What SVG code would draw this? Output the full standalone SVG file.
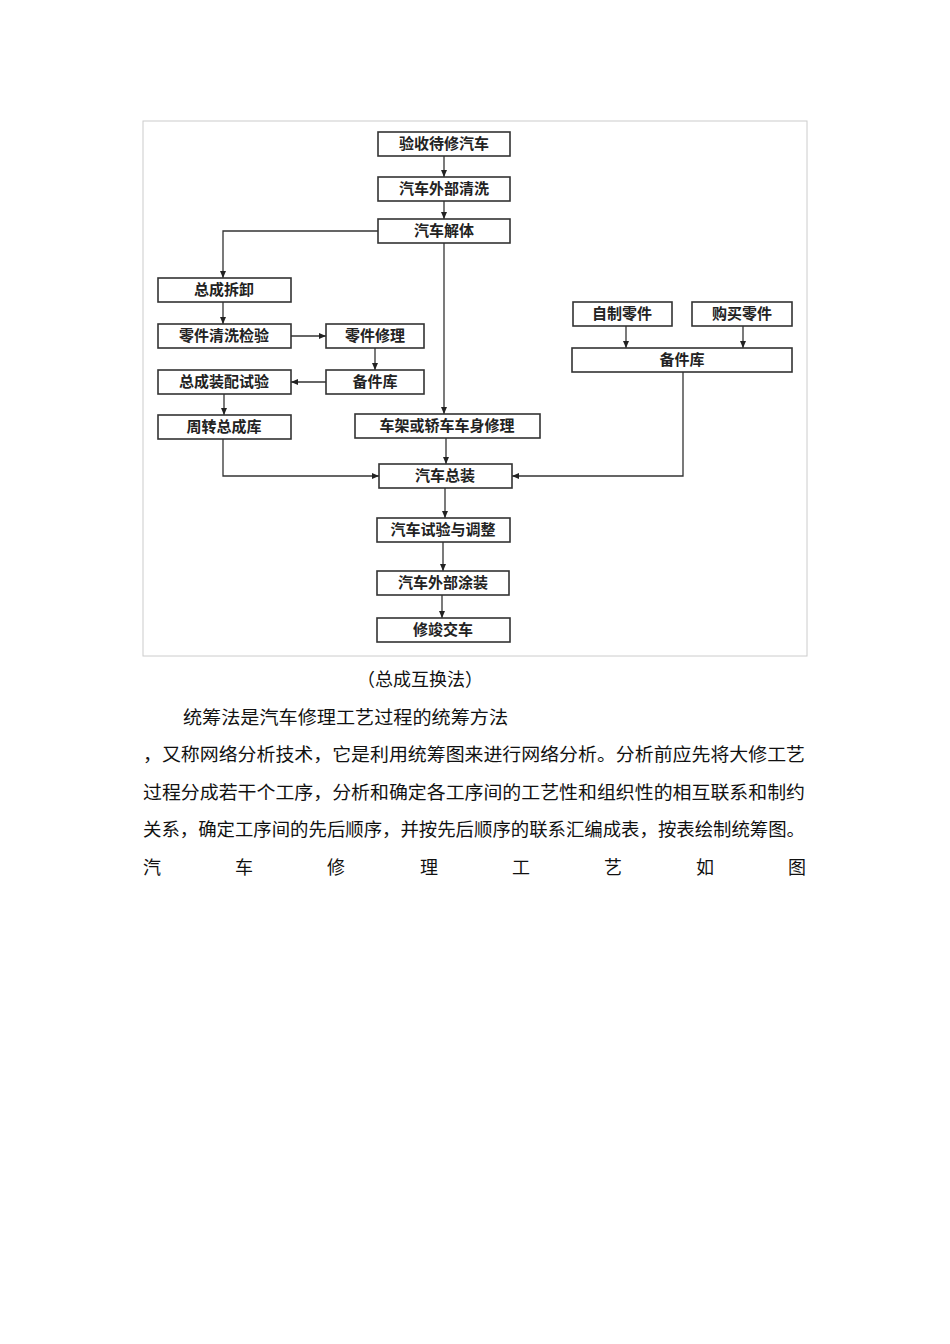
<svg xmlns="http://www.w3.org/2000/svg" width="950" height="1344" viewBox="0 0 950 1344">
<defs>
<marker id="ah" markerWidth="8" markerHeight="8" refX="7" refY="4" orient="auto" markerUnits="userSpaceOnUse"><path d="M0,1 L7,4 L0,7 Z" fill="#222"/></marker>
<style>
.b{fill:#fff;stroke:#333;stroke-width:1.6}
.t{font-family:"Noto Sans CJK SC",sans-serif;font-size:15px;font-weight:bold;fill:#222;text-anchor:middle}
.c{fill:none;stroke:#333;stroke-width:1.3;marker-end:url(#ah)}
.p{font-family:"Noto Sans CJK SC",serif;font-size:18px;fill:#111}
</style>
</defs>
<rect width="950" height="1344" fill="#fff"/>
<rect x="143" y="121" width="664" height="535" fill="none" stroke="#ccc" stroke-width="1"/>
<g id="connectors">
<path class="c" d="M444,156 V177"/>
<path class="c" d="M444,201 V219"/>
<path class="c" d="M378,231 H223 V278"/>
<path class="c" d="M444,243 V414"/>
<path class="c" d="M223,302 V324"/>
<path class="c" d="M291,336 H326"/>
<path class="c" d="M375,348 V370"/>
<path class="c" d="M326,382 H291"/>
<path class="c" d="M224,394 V415"/>
<path class="c" d="M223,439 V476 H379"/>
<path class="c" d="M446,438 V464"/>
<path class="c" d="M626,326 V348"/>
<path class="c" d="M743,326 V348"/>
<path class="c" d="M683,372 V476 H512"/>
<path class="c" d="M445,488 V518"/>
<path class="c" d="M443,542 V571"/>
<path class="c" d="M442,595 V618"/>
</g>
<g id="n1"><rect class="b" x="378" y="132" width="132" height="24"/><text class="t" x="444" y="149">验收待修汽车</text></g>
<g id="n2"><rect class="b" x="378" y="177" width="132" height="24"/><text class="t" x="444" y="194">汽车外部清洗</text></g>
<g id="n3"><rect class="b" x="378" y="219" width="132" height="24"/><text class="t" x="444" y="236">汽车解体</text></g>
<g id="n4"><rect class="b" x="158" y="278" width="133" height="24"/><text class="t" x="224" y="295">总成拆卸</text></g>
<g id="n5"><rect class="b" x="158" y="324" width="133" height="24"/><text class="t" x="224" y="341">零件清洗检验</text></g>
<g id="n6"><rect class="b" x="326" y="324" width="98" height="24"/><text class="t" x="375" y="341">零件修理</text></g>
<g id="n7"><rect class="b" x="158" y="370" width="133" height="24"/><text class="t" x="224" y="387">总成装配试验</text></g>
<g id="n8"><rect class="b" x="326" y="370" width="98" height="24"/><text class="t" x="375" y="387">备件库</text></g>
<g id="n9"><rect class="b" x="158" y="415" width="133" height="24"/><text class="t" x="224" y="432">周转总成库</text></g>
<g id="n10"><rect class="b" x="355" y="414" width="185" height="24"/><text class="t" x="447" y="431">车架或轿车车身修理</text></g>
<g id="n11"><rect class="b" x="573" y="302" width="99" height="24"/><text class="t" x="622" y="319">自制零件</text></g>
<g id="n12"><rect class="b" x="692" y="302" width="100" height="24"/><text class="t" x="742" y="319">购买零件</text></g>
<g id="n13"><rect class="b" x="572" y="348" width="220" height="24"/><text class="t" x="682" y="365">备件库</text></g>
<g id="n14"><rect class="b" x="379" y="464" width="133" height="24"/><text class="t" x="445" y="481">汽车总装</text></g>
<g id="n15"><rect class="b" x="377" y="518" width="133" height="24"/><text class="t" x="443" y="535">汽车试验与调整</text></g>
<g id="n16"><rect class="b" x="377" y="571" width="132" height="24"/><text class="t" x="443" y="588">汽车外部涂装</text></g>
<g id="n17"><rect class="b" x="377" y="618" width="133" height="24"/><text class="t" x="443" y="635">修竣交车</text></g>
<text class="p" x="420" y="686" text-anchor="middle" font-size="16">（总成互换法）</text>
<text class="p" x="183" y="724" textLength="325" lengthAdjust="spacingAndGlyphs">统筹法是汽车修理工艺过程的统筹方法</text>
<text class="p" x="143" y="761" textLength="662" lengthAdjust="spacingAndGlyphs">，又称网络分析技术，它是利用统筹图来进行网络分析。分析前应先将大修工艺</text>
<text class="p" x="143" y="799" textLength="662" lengthAdjust="spacingAndGlyphs">过程分成若干个工序，分析和确定各工序间的工艺性和组织性的相互联系和制约</text>
<text class="p" x="143" y="836" textLength="662" lengthAdjust="spacingAndGlyphs">关系，确定工序间的先后顺序，并按先后顺序的联系汇编成表，按表绘制统筹图。</text>
<text class="p" y="874"><tspan x="143">汽</tspan><tspan x="235">车</tspan><tspan x="327">修</tspan><tspan x="420">理</tspan><tspan x="512">工</tspan><tspan x="604">艺</tspan><tspan x="696">如</tspan><tspan x="788">图</tspan></text>
</svg>
